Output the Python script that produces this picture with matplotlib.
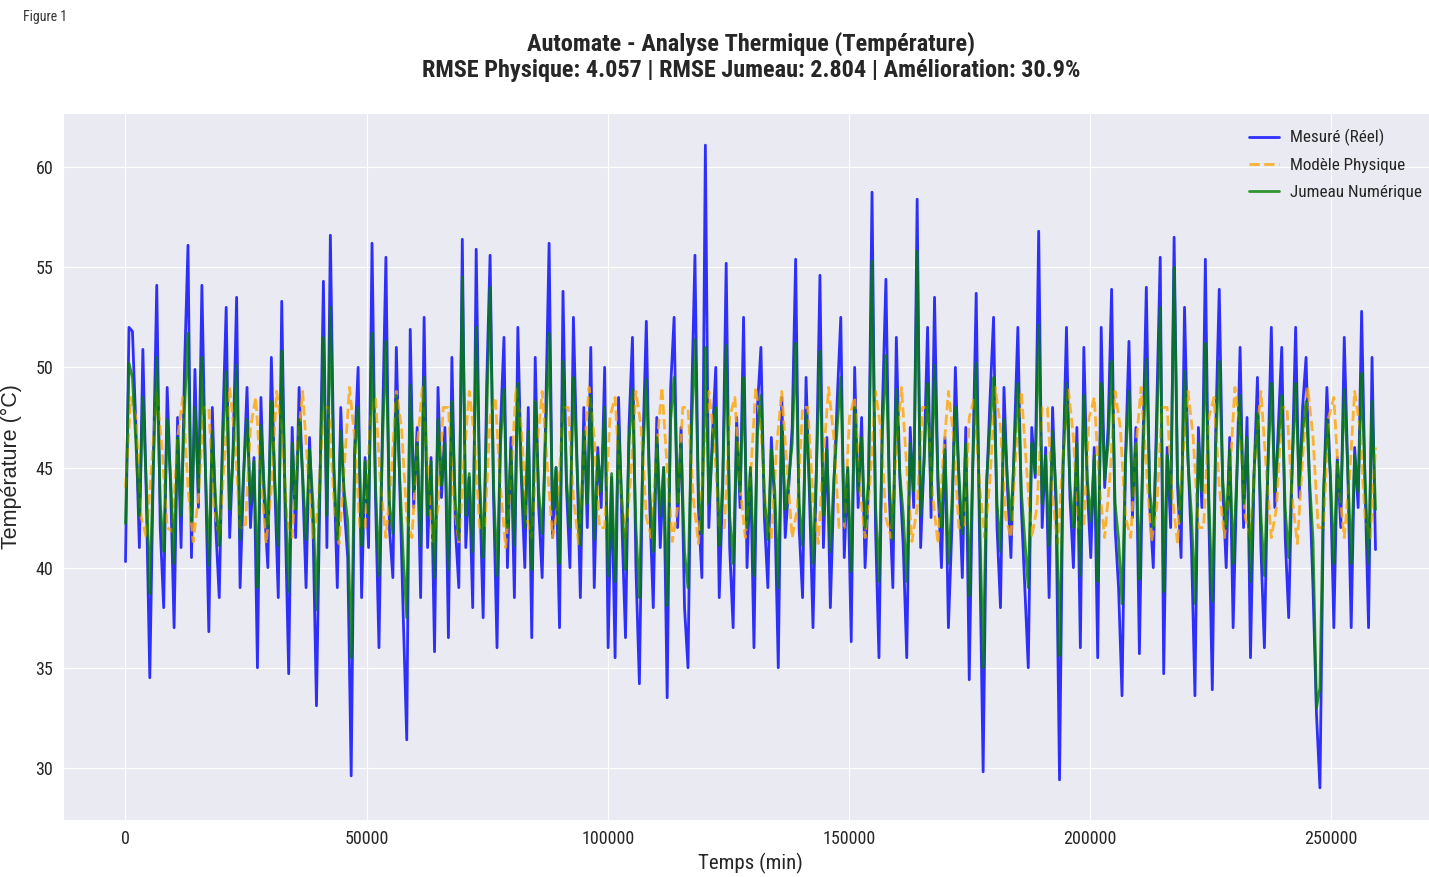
import numpy as np
import matplotlib
matplotlib.use('Agg')
import matplotlib.pyplot as plt
import seaborn as sns

sns.set_style('darkgrid')
plt.rcParams['font.family'] = ['Roboto Condensed', 'Liberation Sans', 'DejaVu Sans']

# mesures et jumeau : un point toutes les 12 h ; modèle physique : toutes les 18 h
pas_mesure = 720
pas_physique = 1080

mesure = [
    40.3, 52.0, 51.8, 47.0, 41.0, 50.9, 43.5, 34.5, 45.0, 54.1,
    42.0, 38.0, 49.0, 44.0, 37.0, 47.5, 41.0, 50.0, 56.1, 40.5,
    49.9, 43.0, 54.1, 45.0, 36.8, 48.0, 42.0, 38.5, 47.0, 53.0,
    41.5, 46.0, 53.5, 39.0, 44.5, 49.0, 42.0, 45.5, 35.0, 48.5,
    43.0, 40.0, 50.5, 44.0, 38.5, 53.3, 42.5, 34.7, 47.0, 41.5,
    49.0, 44.5, 39.0, 46.5, 42.0, 33.1, 44.0, 54.3, 41.0, 56.6,
    45.0, 39.0, 48.0, 43.0, 40.5, 29.6, 46.0, 50.0, 38.5, 45.5,
    41.0, 56.2, 43.5, 36.0, 47.0, 55.5, 42.0, 39.5, 51.0, 44.0,
    37.5, 31.4, 51.9, 43.0, 47.0, 38.5, 52.5, 41.0, 45.5, 35.8,
    49.0, 43.5, 47.0, 36.5, 50.5, 42.0, 39.0, 56.4, 41.0, 44.5,
    38.0, 55.9, 44.0, 37.5, 49.0, 55.6, 43.5, 36.0, 47.0, 51.5,
    40.0, 46.5, 38.5, 52.0, 44.5, 40.0, 48.0, 36.5, 50.5, 43.0,
    39.5, 47.5, 56.2, 41.5, 45.0, 37.0, 53.8, 44.0, 40.0, 52.5,
    45.5, 38.5, 48.0, 42.0, 51.0, 39.0, 46.0, 43.0, 50.0, 36.0,
    44.5, 35.5, 48.5, 42.0, 36.5, 47.0, 51.5, 40.0, 34.2, 46.0,
    52.3, 43.0, 38.0, 47.5, 41.0, 45.0, 33.5, 49.0, 52.5, 42.0,
    47.0, 38.0, 35.0, 48.0, 55.6, 43.0, 39.5, 61.1, 42.0, 46.5,
    50.0, 38.5, 44.0, 55.2, 41.0, 37.0, 47.5, 43.0, 52.5, 40.0,
    45.0, 36.0, 48.0, 51.0, 42.5, 39.0, 46.5, 43.0, 35.0, 48.5,
    41.5, 44.0, 47.0, 55.4, 42.0, 38.5, 49.5, 43.5, 37.0, 45.0,
    54.6, 41.0, 46.5, 38.0, 44.0, 48.5, 52.5, 40.5, 45.0, 36.3,
    50.0, 43.0, 47.5, 40.0, 44.0, 58.75, 42.0, 35.5, 48.0, 54.4,
    43.5, 39.0, 51.5, 44.5, 41.0, 35.5, 47.0, 43.0, 58.4, 41.0,
    45.5, 52.0, 42.5, 53.5, 44.0, 40.0, 46.5, 37.0, 42.0, 50.0,
    44.5, 39.5, 47.0, 34.4, 45.0, 53.7, 41.0, 29.8, 44.0, 48.5,
    52.5, 42.0, 38.0, 49.0, 44.0, 40.5, 46.5, 52.0, 43.0, 39.0,
    35.0, 47.0, 44.5, 56.8, 42.0, 46.0, 38.5, 48.0, 43.0, 29.4,
    45.0, 52.0, 43.5, 40.0, 47.0, 36.0, 51.0, 44.0, 40.5, 46.0,
    35.5, 52.0, 44.0, 47.0, 53.9, 42.0, 39.0, 33.6, 45.5, 51.3,
    42.5, 47.0, 35.7, 46.0, 54.0, 43.0, 40.0, 48.0, 55.5, 34.7,
    46.0, 42.0, 56.5, 44.0, 40.5, 53.0, 45.5, 41.0, 33.6, 47.0,
    43.0, 55.4, 42.5, 33.9, 47.0, 53.9, 44.0, 40.0, 46.5, 37.0,
    44.0, 51.0, 42.0, 47.5, 35.5, 44.5, 49.5, 41.0, 36.0, 45.0,
    52.0, 43.0, 47.0, 51.0, 41.5, 37.5, 45.0, 52.0, 43.5, 48.0,
    50.5, 44.0, 39.0, 32.7, 29.0, 43.0, 49.0, 44.5, 37.0, 45.5,
    42.0, 51.5, 45.0, 37.0, 46.0, 43.0, 52.8, 44.0, 37.0, 50.5,
    40.9,
]

jumeau = [
    42.2, 50.2, 49.5, 46.2, 42.6, 48.5, 44.1, 38.7, 45.0, 50.5,
    43.2, 40.8, 47.4, 44.4, 40.2, 46.5, 42.6, 48.0, 51.7, 42.3,
    48.0, 43.8, 50.5, 45.0, 40.1, 46.8, 43.2, 41.1, 46.2, 49.8,
    42.9, 45.6, 50.1, 41.4, 44.7, 47.4, 43.2, 45.3, 39.0, 47.1,
    43.8, 42.0, 48.3, 44.4, 41.1, 50.8, 43.5, 38.8, 46.2, 42.9,
    47.4, 44.7, 41.4, 45.9, 43.2, 37.9, 44.4, 51.5, 42.6, 53.0,
    45.0, 41.4, 46.8, 43.8, 42.3, 35.5, 45.6, 48.0, 41.1, 45.3,
    42.6, 51.7, 44.1, 39.6, 46.2, 51.3, 43.2, 41.7, 48.6, 44.4,
    40.5, 37.5, 49.1, 43.8, 46.2, 41.1, 49.5, 42.6, 45.3, 39.5,
    47.4, 44.1, 46.2, 39.9, 48.3, 43.2, 41.4, 54.5, 42.6, 44.7,
    40.8, 52.0, 44.4, 40.5, 47.4, 54.0, 44.1, 39.6, 46.2, 48.9,
    42.0, 45.9, 41.1, 49.2, 44.7, 42.0, 46.8, 39.9, 48.3, 43.8,
    41.7, 46.5, 51.7, 42.9, 45.0, 40.2, 50.3, 44.4, 42.0, 49.5,
    45.3, 41.1, 46.8, 43.2, 48.6, 41.4, 45.6, 43.8, 48.0, 39.6,
    44.7, 39.3, 47.1, 43.2, 39.9, 46.2, 48.9, 42.0, 38.5, 45.6,
    49.4, 43.8, 40.8, 46.5, 42.6, 45.0, 38.1, 47.4, 49.5, 43.2,
    46.2, 40.8, 39.0, 46.8, 51.4, 43.8, 41.7, 51.0, 43.2, 45.9,
    48.0, 41.1, 44.4, 51.1, 42.6, 40.2, 46.5, 43.8, 49.5, 42.0,
    45.0, 39.6, 46.8, 48.6, 43.5, 41.4, 45.9, 43.8, 39.0, 47.1,
    42.9, 44.4, 46.2, 51.2, 43.2, 41.1, 47.7, 44.1, 40.2, 45.0,
    50.8, 42.6, 45.9, 40.8, 44.4, 47.1, 49.5, 42.3, 45.0, 39.8,
    48.0, 43.8, 46.5, 42.0, 44.4, 55.3, 43.2, 39.3, 46.8, 50.6,
    44.1, 41.4, 48.9, 44.7, 42.6, 39.3, 46.2, 43.8, 55.8, 42.6,
    45.3, 49.2, 43.5, 50.1, 44.4, 42.0, 45.9, 40.2, 43.2, 48.0,
    44.7, 41.7, 46.2, 38.6, 45.0, 50.2, 42.6, 35.0, 44.4, 47.1,
    49.5, 43.2, 40.8, 47.4, 44.4, 42.3, 45.9, 49.2, 43.8, 41.4,
    39.0, 46.2, 44.7, 52.1, 43.2, 45.6, 41.1, 46.8, 43.8, 35.6,
    45.0, 49.2, 44.1, 42.0, 46.2, 39.6, 48.6, 44.4, 42.3, 45.6,
    39.3, 49.2, 44.4, 46.2, 50.3, 43.2, 41.4, 38.2, 45.3, 48.8,
    43.5, 46.2, 39.4, 45.6, 50.4, 43.8, 42.0, 46.8, 53.0, 38.8,
    45.6, 43.2, 55.0, 44.4, 42.3, 49.8, 45.3, 42.6, 38.2, 46.2,
    43.8, 51.2, 43.5, 38.3, 46.2, 50.3, 44.4, 42.0, 45.9, 40.2,
    44.4, 48.6, 43.2, 46.5, 39.3, 44.7, 47.7, 42.6, 39.6, 45.0,
    49.2, 43.8, 46.2, 48.6, 42.9, 40.5, 45.0, 49.2, 44.1, 46.8,
    48.3, 44.4, 41.4, 33.0, 34.0, 43.8, 47.4, 44.7, 40.2, 45.3,
    43.2, 48.9, 45.0, 40.2, 45.6, 43.8, 49.7, 44.4, 40.2, 48.3,
    42.9,
]

physique = [
    44.0, 48.5, 47.5, 42.5, 41.5, 45.0, 48.8, 46.0, 42.0, 41.8,
    46.5, 48.5, 44.0, 41.3, 43.5, 48.0, 48.0, 43.0, 41.5, 45.5,
    49.0, 46.5, 42.0, 42.0, 47.0, 48.5, 44.5, 41.2, 44.0, 48.8,
    47.0, 42.5, 41.5, 46.0, 48.8, 45.0, 41.5, 43.0, 48.0, 48.0,
    43.5, 41.2, 45.0, 49.0, 46.5, 42.0, 42.0, 47.5, 48.5, 44.0,
    41.5, 44.5, 48.8, 47.0, 42.5, 41.5, 46.0, 49.0, 45.0, 41.3,
    43.0, 48.0, 48.0, 43.5, 41.2, 45.5, 48.8, 46.5, 42.0, 42.0,
    47.5, 48.5, 44.0, 41.0, 44.5, 49.0, 47.0, 42.5, 41.5, 46.0,
    48.8, 45.0, 41.5, 43.0, 48.0, 48.0, 43.5, 41.2, 45.5, 49.0,
    46.5, 42.0, 42.0, 47.5, 48.5, 44.0, 41.5, 44.5, 48.8, 47.0,
    42.5, 41.5, 46.0, 49.0, 45.0, 41.3, 43.0, 48.0, 48.0, 43.5,
    41.2, 45.5, 48.8, 46.5, 42.0, 42.0, 47.5, 48.5, 44.0, 41.5,
    44.5, 49.0, 47.0, 42.5, 41.5, 46.0, 48.8, 45.0, 41.5, 43.0,
    48.0, 48.0, 43.5, 41.2, 45.5, 49.0, 46.5, 42.0, 42.0, 47.5,
    48.5, 44.0, 41.5, 44.5, 48.8, 47.0, 42.5, 41.5, 46.0, 49.0,
    45.0, 41.3, 43.0, 48.0, 48.0, 43.5, 41.2, 45.5, 48.8, 46.5,
    42.0, 42.0, 47.5, 48.5, 44.0, 41.5, 44.5, 49.0, 47.0, 42.5,
    41.5, 46.0, 48.8, 45.0, 41.5, 43.0, 48.0, 48.0, 43.5, 41.2,
    45.5, 49.0, 46.5, 42.0, 42.0, 47.5, 48.5, 44.0, 41.5, 44.5,
    48.8, 47.0, 42.5, 41.5, 46.0, 49.0, 45.0, 41.3, 43.0, 48.0,
    48.0, 43.5, 41.2, 45.5, 48.8, 46.5, 42.0, 42.0, 47.5, 48.5,
    44.0, 41.5, 44.5, 49.0, 47.0, 42.5, 41.5, 46.0, 48.8, 45.0,
    41.5, 43.0, 48.0, 48.0, 43.5, 41.2, 45.5, 49.0, 46.5, 42.0,
    42.0, 47.5, 48.5, 44.0, 41.5, 44.5, 48.8, 47.0, 42.5, 41.5,
    46.0,
]

rmse_phys = 4.057
rmse_jumeau = 2.804
amelioration = 30.9

t_mesure = np.arange(len(mesure)) * pas_mesure
t_physique = np.arange(len(physique)) * pas_physique

fig = plt.figure(figsize=(14.29, 8.77), dpi=100)
ax = fig.add_axes([63 / 1429, 57 / 877, 1375 / 1429, 707 / 877])

ax.plot(t_mesure, mesure, color='blue', linewidth=2, alpha=0.8, label='Mesuré (Réel)')
ax.plot(t_physique, physique, color='orange', linestyle='--', linewidth=2, alpha=0.8,
        label='Modèle Physique')
ax.plot(t_mesure, jumeau, color='green', linewidth=2, alpha=0.8, label='Jumeau Numérique')

ax.set_xlabel('Temps (min)', fontsize=15, labelpad=4)
ax.set_ylabel('Température (°C)', fontsize=15.5, labelpad=10, family='Liberation Sans')
ax.tick_params(labelsize=13)
ax.set_yticks([30, 35, 40, 45, 50, 55, 60])
ax.set_xticks([0, 50000, 100000, 150000, 200000, 250000])
ax.legend(loc='upper right', fontsize=12.3, frameon=False, handlelength=1.75,
          handletextpad=0.65, labelspacing=0.68, borderaxespad=0.55)

fig.text(0.5256, 0.9356,
         'Automate - Analyse Thermique (Température)\n'
         f'RMSE Physique: {rmse_phys:.3f} | RMSE Jumeau: {rmse_jumeau:.3f} | '
         f'Amélioration: {amelioration:.1f}%',
         ha='center', va='center', fontsize=17.5, fontweight='bold', linespacing=1.15)

fig.text(0.016, 0.981, 'Figure 1', fontsize=10, color='#333333', va='center')

fig.savefig('out.png', dpi=100)
